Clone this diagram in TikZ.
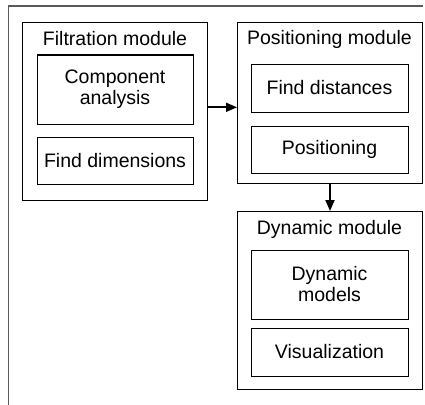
\documentclass[tikz,border=0pt]{standalone}
\usepackage{fontspec}
\setmainfont{Liberation Sans}
\usetikzlibrary{arrows.meta}
\begin{document}
\begin{tikzpicture}[x=1pt,y=-1pt,
  font=\fontsize{19.5}{22}\selectfont,
  modbox/.style={draw=black,line width=1pt,minimum width=185pt,anchor=north west,inner sep=0pt},
  subbox/.style={draw=black,line width=1pt,minimum width=156pt,align=center,inner sep=0pt},
  title/.style={inner sep=0pt},
  flow/.style={line width=1.8pt,-{Triangle[length=11pt,width=9pt]}}]
\useasboundingbox (0,0) rectangle (425,404);
% outer frame (only its top and left edges lie within the page)
\draw[line width=1.8pt,draw=black!65] (8.5,410) -- (8.5,6) -- (423,6);

% filtration module
\node[modbox,minimum height=178pt] (filt) at (22,22) {};
\node[title] (filtT) at (115,39) {Filtration module};
\node[subbox,minimum height=69pt] (comp) at (115,89.5) {Component\\[-1pt]analysis};
\node[subbox,minimum height=47pt] (dims) at (115,160.5) {Find dimensions};

% positioning module
\node[modbox,minimum height=161pt] (pos) at (237,22) {};
\node[title] (posT) at (329.5,39) {Positioning module};
\node[subbox,minimum height=48pt,minimum width=157pt] (dist) at (329.5,88) {Find distances};
\node[subbox,minimum height=47pt,minimum width=157pt] (posit) at (329.5,149.5) {Positioning};

% dynamic module
\node[modbox,minimum height=178pt] (dyn) at (237,211) {};
\node[title] (dynT) at (329.5,229) {Dynamic module};
\node[subbox,minimum height=69pt,minimum width=157pt] (dmod) at (329.5,284.5) {Dynamic\\[-1pt]models};
\node[subbox,minimum height=48pt,minimum width=157pt] (vis) at (329.5,352) {Visualization};

% connectors
\draw[flow] (filt.east |- 0,107.3) -- (pos.west |- 0,107.3);
\draw[flow] (pos.south) -- (dyn.north);
\end{tikzpicture}
\end{document}
